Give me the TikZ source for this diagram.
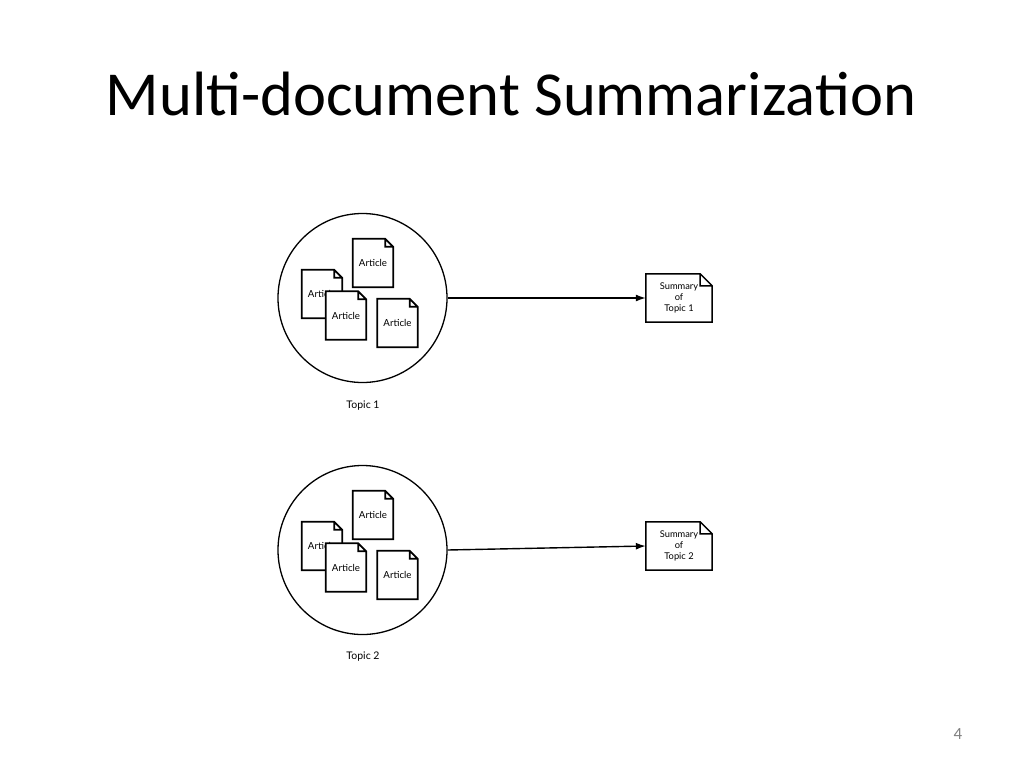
\documentclass[tikz,border=0pt]{standalone}
\usepackage{fontspec}
\setmainfont{Carlito}
\newfontfamily\docfont{Lato}
\usetikzlibrary{arrows.meta}

\begin{document}
\begin{tikzpicture}[x=1pt, y=-1pt,
		doc/.style={inner sep=0pt, minimum width=40pt, minimum height=48pt, font=\docfont\fontsize{9.7}{10}\selectfont,
			append after command={\pgfextra{\let\docnode\tikzlastnode
				\draw[fill=white, line width=1.7pt, line join=miter]
				(\docnode.north west) -- ([xshift=-8pt]\docnode.north east) -- ([yshift=-8pt]\docnode.north east) -- (\docnode.south east) -- (\docnode.south west) -- cycle
				([xshift=-8pt]\docnode.north east) |- ([yshift=-8pt]\docnode.north east);}}},
		summ/.style={inner sep=0pt, minimum width=66pt, minimum height=48pt, align=center, font=\docfont\fontsize{9.3}{11}\selectfont,
			append after command={\pgfextra{\let\docnode\tikzlastnode
				\draw[fill=white, line width=1.5pt, line join=miter]
				(\docnode.north west) -- ([xshift=-12pt]\docnode.north east) -- ([yshift=-12pt]\docnode.north east) -- (\docnode.south east) -- (\docnode.south west) -- cycle
				([xshift=-12pt]\docnode.north east) |- ([yshift=-12pt]\docnode.north east);}}},
		topic/.style={draw, circle, line width=1.3pt, minimum size=169pt, inner sep=0pt},
		toplabel/.style={font=\docfont\fontsize{10.5}{12}\selectfont},
		link/.style={line width=1.4pt, -{Latex[length=10pt, width=7pt]}}]
		\useasboundingbox (0,0) rectangle (1024,768);
		\node[anchor=base, font=\fontsize{62.6}{75}\selectfont] (title) at (511,115) {Multi-document Summarization};
		\node[anchor=base, text=gray, font=\fontsize{17}{20}\selectfont] (page) at (958,739) {4};

		% topic 1
		\node[topic] (c1) at (362.5,298) {};
		\node[doc] (a1) at (373,263) {Article};
		\node[doc] (a2) at (322,294) {Article};
		\node[doc] (a3) at (346,315.5) {Article};
		\node[doc] (a4) at (397.5,323) {Article};
		\node[toplabel] (t1) at (363,406) {Topic 1};
		\node[summ] (s1) at (679,298) {Summary\\of\\Topic 1};
		\draw[link] (c1.east) -- (s1.west);

		% topic 2
		\node[topic] (c2) at (362.5,550) {};
		\node[doc] (b1) at (373,515) {Article};
		\node[doc] (b2) at (322,546) {Article};
		\node[doc] (b3) at (346,567.5) {Article};
		\node[doc] (b4) at (397.5,575) {Article};
		\node[toplabel] (t2) at (363,657) {Topic 2};
		\node[summ] (s2) at (679,546) {Summary\\of\\Topic 2};
		\draw[link] (c2.east) -- (s2.west);
	\end{tikzpicture}
\end{document}
